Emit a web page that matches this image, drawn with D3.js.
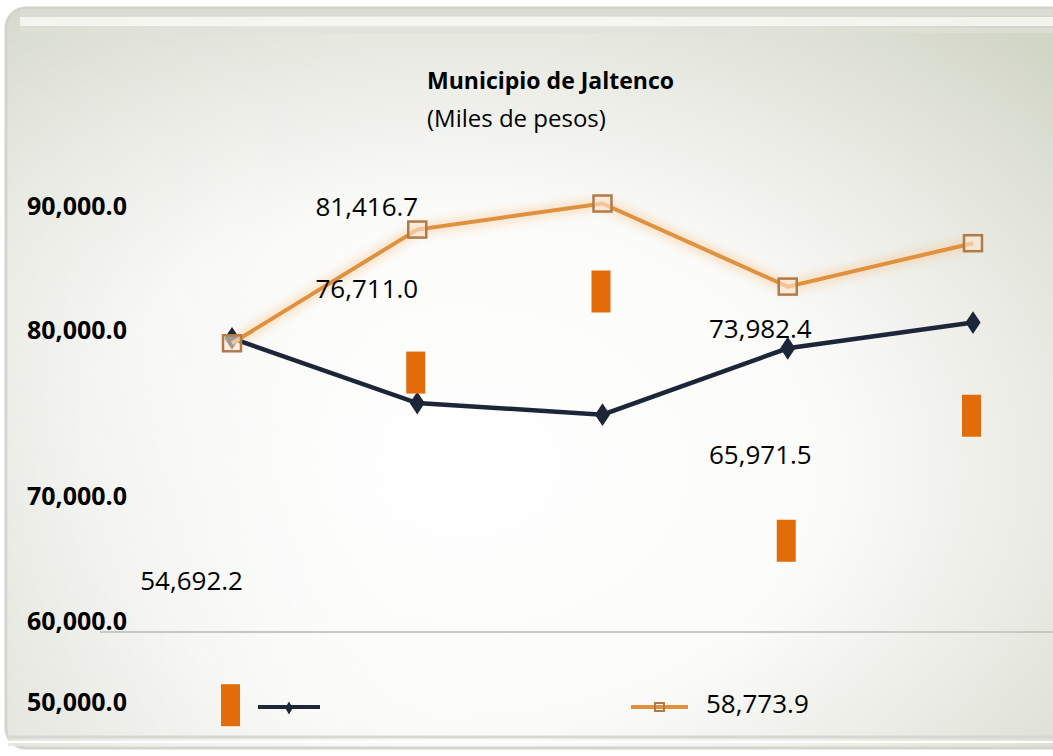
<!DOCTYPE html>
<html>
<head>
<meta charset="utf-8">
<script src="https://cdn.jsdelivr.net/npm/d3@7"></script>
<style>
  body { margin: 0; background: #fff; }
  text { font-family: "Open Sans", "Liberation Sans", sans-serif; }
</style>
</head>
<body>
<div id="chart"></div>
<script>
// categories (no labels shown in the picture)
var categories = [0, 1, 2, 3, 4];

// series values
var darkValues = [79500, 75600, 74900, 78900, 80600];
var orangeValues = [79200, 88100, 90200, 83500, 87000];

// orange blocks, value at top of each block
var blockValues = [52200, 78700, 84800, 68100, 76100];

// loose data labels: text, category, level
var labelTexts = ['54,692.2', '81,416.7', '76,711.0', '73,982.4', '65,971.5'];
var labelCats = [0, 1, 1, 3, 3];
var labelLevels = [62500, 89200, 82600, 79500, 71900];

// legend names
var legendNames = ['', '58,773.9'];

// tick labels
var tickValues = [50000, 60000, 70000, 80000, 90000];

var W = 1053, H = 756;

var svg = d3.select('#chart')
            .append('svg')
            .attr('width', W)
            .attr('height', H);

var defs = svg.append('defs');

//background gradient
var bg = defs.append('radialGradient')
             .attr('id', 'bg')
             .attr('cx', '0.42').attr('cy', '0.62').attr('r', '0.78');
bg.append('stop').attr('offset', '0').attr('stop-color', '#ffffff');
bg.append('stop').attr('offset', '0.45').attr('stop-color', '#fbfbf9');
bg.append('stop').attr('offset', '0.8').attr('stop-color', '#e3e5dc');
bg.append('stop').attr('offset', '1').attr('stop-color', '#d2d6c7');

//greyish left edge, stronger towards the bottom
var side = defs.append('linearGradient')
               .attr('id', 'side')
               .attr('x1', 0).attr('x2', 1).attr('y1', 0).attr('y2', 0);
side.append('stop').attr('offset', '0').attr('stop-color', '#e4e6df').attr('stop-opacity', 0.9);
side.append('stop').attr('offset', '1').attr('stop-color', '#ffffff').attr('stop-opacity', 0);

var fadeV = defs.append('linearGradient')
                .attr('id', 'fadeV')
                .attr('x1', 0).attr('x2', 0).attr('y1', 0).attr('y2', 1);
fadeV.append('stop').attr('offset', '0').attr('stop-color', '#fff').attr('stop-opacity', 0);
fadeV.append('stop').attr('offset', '1').attr('stop-color', '#fff').attr('stop-opacity', 1);

var mask = defs.append('mask').attr('id', 'sideMask');
mask.append('rect')
    .attr('x', 0).attr('y', 0).attr('width', W).attr('height', H)
    .attr('fill', 'url(#fadeV)');

var glow = defs.append('filter').attr('id', 'glow')
               .attr('x', '-20%').attr('y', '-20%').attr('width', '140%').attr('height', '140%');
glow.append('feGaussianBlur').attr('stdDeviation', 4);

var soft = defs.append('filter').attr('id', 'soft');
soft.append('feGaussianBlur').attr('stdDeviation', 0.6);

//panel
svg.append('rect')
   .attr('x', 6).attr('y', 8)
   .attr('width', W + 20).attr('height', 740)
   .attr('rx', 20)
   .attr('fill', 'url(#bg)')
   .attr('stroke', '#d3d5cd')
   .attr('stroke-width', 3);

svg.append('rect')
   .attr('x', 8).attr('y', 40)
   .attr('width', 420).attr('height', 706)
   .attr('fill', 'url(#side)')
   .attr('mask', 'url(#sideMask)');

//top bands
svg.append('rect').attr('x', 20).attr('y', 9).attr('width', W).attr('height', 7).attr('fill', '#dadcd4');
svg.append('rect').attr('x', 20).attr('y', 17).attr('width', W).attr('height', 9).attr('fill', '#fafaf8').attr('opacity', 0.8);
svg.append('rect').attr('x', 20).attr('y', 28).attr('width', W).attr('height', 5).attr('fill', '#dfe1d9').attr('opacity', 0.7);

//separator lines
svg.append('line')
   .attr('x1', 100).attr('x2', W)
   .attr('y1', 632).attr('y2', 632)
   .attr('stroke', '#c6c9c1').attr('stroke-width', 2);
svg.append('line')
   .attr('x1', 8).attr('x2', W)
   .attr('y1', 737).attr('y2', 737)
   .attr('stroke', '#d5d7d0').attr('stroke-width', 3);
svg.append('line')
   .attr('x1', 8).attr('x2', W)
   .attr('y1', 742).attr('y2', 742)
   .attr('stroke', '#ffffff').attr('stroke-width', 2);

//scales
var x = d3.scalePoint()
          .domain(categories)
          .range([232, 973]);

var y = d3.scaleLinear()
          .domain(tickValues)
          .range([702, 621, 496, 330, 206]);

//y axis
var yAxis = d3.axisLeft(y)
              .tickValues(tickValues)
              .tickFormat(d3.format(',.1f'))
              .tickSize(0)
              .tickPadding(0);

var axisG = svg.append('g')
               .attr('transform', 'translate(127, 0)')
               .call(yAxis);
axisG.select('.domain').remove();
axisG.selectAll('text')
     .attr('fill', '#000')
     .style('font-size', '25px')
     .style('font-weight', 'bold')
     .style('font-family', '"Open Sans", sans-serif');

//title
svg.append('text')
   .attr('x', 427).attr('y', 89)
   .attr('fill', '#000')
   .style('font-size', '23px')
   .style('font-weight', 'bold')
   .text('Municipio de Jaltenco');
svg.append('text')
   .attr('x', 427).attr('y', 127)
   .attr('fill', '#000')
   .style('font-size', '24px')
   .text('(Miles de pesos)');

var line = d3.line()
             .x((d, i) => x(categories[i]))
             .y(d => y(d));

//orange series with glow
svg.append('path')
   .datum(orangeValues)
   .attr('d', line)
   .attr('fill', 'none')
   .attr('stroke', '#f6c48f')
   .attr('stroke-width', 12)
   .attr('opacity', 0.45)
   .attr('filter', 'url(#glow)');

//dark series
svg.append('path')
   .datum(darkValues)
   .attr('d', line)
   .attr('fill', 'none')
   .attr('stroke', '#1c2838')
   .attr('stroke-width', 4.5)
   .attr('filter', 'url(#soft)');

svg.selectAll('.dk')
   .data(darkValues)
   .enter()
   .append('path')
   .attr('class', 'dk')
   .attr('d', d3.symbol(d3.symbolDiamond, 150))
   .attr('transform', (d, i) => `translate(${x(categories[i])}, ${y(d)}) scale(1.15, 1)`)
   .attr('fill', '#1c2838')
   .attr('filter', 'url(#soft)');

svg.append('path')
   .datum(orangeValues)
   .attr('d', line)
   .attr('fill', 'none')
   .attr('stroke', '#e0913f')
   .attr('stroke-width', 4)
   .attr('filter', 'url(#soft)');

svg.selectAll('.og')
   .data(orangeValues)
   .enter()
   .append('rect')
   .attr('class', 'og')
   .attr('x', (d, i) => x(categories[i]) - 9)
   .attr('y', d => y(d) - 8)
   .attr('width', 18)
   .attr('height', 16)
   .attr('fill', '#fbe8d2')
   .attr('fill-opacity', 0.6)
   .attr('stroke', '#b07a48')
   .attr('stroke-width', 2.5)
   .attr('filter', 'url(#soft)');

//orange blocks
svg.selectAll('.blk')
   .data(blockValues)
   .enter()
   .append('rect')
   .attr('class', 'blk')
   .attr('x', (d, i) => x(categories[i]) - 11)
   .attr('y', d => y(d))
   .attr('width', 19)
   .attr('height', 42)
   .attr('fill', '#e36c0a');

//loose labels
var labelShift = [11, 1, 0, 24, 0];
svg.selectAll('.lbl')
   .data(labelTexts)
   .enter()
   .append('text')
   .attr('class', 'lbl')
   .attr('text-anchor', 'end')
   .attr('x', (d, i) => x(labelCats[i]) + labelShift[labelCats[i]])
   .attr('y', (d, i) => y(labelLevels[i]))
   .attr('fill', '#000')
   .style('font-size', '26px')
   .text(d => d);

//legend
var legend = svg.append('g').attr('transform', 'translate(0, 707)');

legend.append('line')
      .attr('x1', 258).attr('x2', 320)
      .attr('stroke', '#1c2838').attr('stroke-width', 4);
legend.append('path')
      .attr('d', d3.symbol(d3.symbolDiamond, 50))
      .attr('transform', 'translate(289, 1)')
      .attr('fill', '#1c2838');
legend.append('text')
      .attr('x', 330).attr('y', 6)
      .style('font-size', '26px')
      .text(legendNames[0]);

legend.append('line')
      .attr('x1', 631).attr('x2', 688)
      .attr('stroke', '#e0913f').attr('stroke-width', 4);
legend.append('rect')
      .attr('x', 655).attr('y', -4)
      .attr('width', 9).attr('height', 8)
      .attr('fill', 'none')
      .attr('stroke', '#b07a48').attr('stroke-width', 2);
legend.append('text')
      .attr('x', 706).attr('y', 6)
      .attr('fill', '#000')
      .style('font-size', '26px')
      .text(legendNames[1]);
</script>
</body>
</html>
